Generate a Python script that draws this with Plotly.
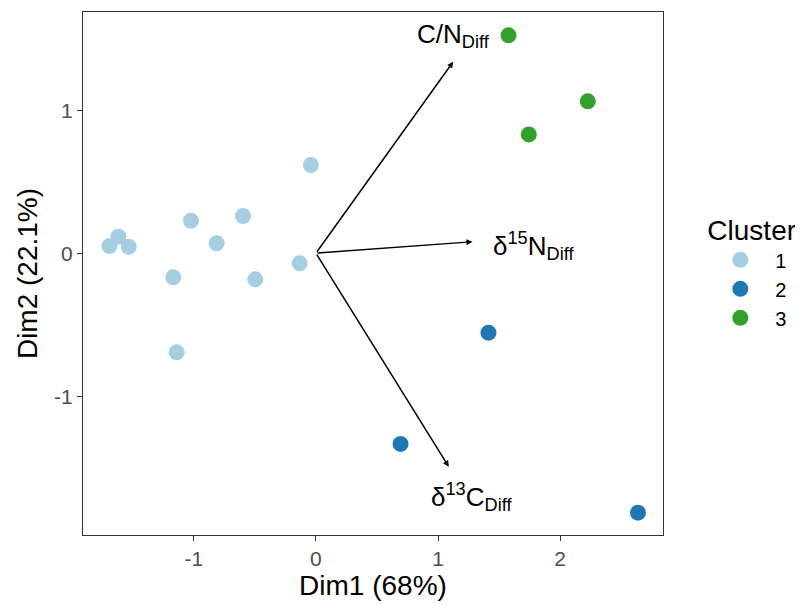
import plotly.graph_objects as go

# ---- data ----
clusters = ["1", "2", "3"]
cluster_colors = ["#A6CEE3", "#1F78B4", "#33A02C"]

c1_x = [-1.691, -1.618, -1.533, -1.168, -1.023, -1.140, -0.813, -0.597, -0.497, -0.133, -0.041]
c1_y = [0.050, 0.115, 0.045, -0.169, 0.227, -0.693, 0.069, 0.260, -0.183, -0.071, 0.617]
c2_x = [0.693, 1.413, 2.637]
c2_y = [-1.334, -0.556, -1.815]
c3_x = [1.577, 2.226, 1.743]
c3_y = [1.524, 1.062, 0.831]

var_names = ["C/N<sub>Diff</sub>", "δ<sup>15</sup>N<sub>Diff</sub>", "δ<sup>13</sup>C<sub>Diff</sub>"]
var_x = [1.124, 1.282, 1.088]
var_y = [1.339, 0.080, -1.493]

x_ticks = [-1, 0, 1, 2]
x_tick_labels = ["-1", "0", "1", "2"]
y_ticks = [-1, 0, 1]
y_tick_labels = ["-1", "0", "1"]
x_title = "Dim1 (68%)"
y_title = "Dim2 (22.1%)"
legend_title = "Cluster"

FONT = "Liberation Sans, Arial, sans-serif"

fig = go.Figure()
for name, col, xs, ys in zip(clusters, cluster_colors, [c1_x, c2_x, c3_x], [c1_y, c2_y, c3_y]):
    fig.add_trace(go.Scatter(x=xs, y=ys, mode="markers", name=name,
                             marker=dict(color=col, size=16, line=dict(width=0))))

# arrows
for vx, vy in zip(var_x, var_y):
    fig.add_annotation(x=vx, y=vy, ax=0, ay=0, xref="x", yref="y", axref="x", ayref="y",
                       showarrow=True, arrowhead=2, arrowsize=0.8, arrowwidth=1.5,
                       arrowcolor="black", text="")

# labels (placed relative to arrow tips)
label_style = [
    dict(xanchor="center", yanchor="middle", xshift=0, yshift=26),
    dict(xanchor="left", yanchor="middle", xshift=19, yshift=-4),
    dict(xanchor="center", yanchor="middle", xshift=23, yshift=-30),
]
for name, vx, vy, st in zip(var_names, var_x, var_y, label_style):
    fig.add_annotation(x=vx, y=vy, xref="x", yref="y", text=name, showarrow=False,
                       font=dict(family=FONT, size=26, color="black"), **st)

axis_common = dict(showgrid=False, zeroline=False, showline=True, mirror=True,
                   linecolor="#333333", linewidth=1.2, ticks="outside", ticklen=5,
                   tickcolor="#333333", tickwidth=1.2, automargin=False,
                   tickfont=dict(family=FONT, size=21, color="#4D4D4D"))

fig.update_layout(
    width=803, height=605,
    margin=dict(l=75, r=148, t=4, b=78, autoexpand=False),
    paper_bgcolor="white", plot_bgcolor="white",
    font=dict(family=FONT),
    xaxis=dict(range=[-1.907, 2.842], tickvals=x_ticks, ticktext=x_tick_labels,
               title=dict(text=x_title, font=dict(family=FONT, size=28, color="black"), standoff=6),
               **axis_common),
    yaxis=dict(range=[-1.971, 1.687], tickvals=y_ticks, ticktext=y_tick_labels,
               title=dict(text=y_title, font=dict(family=FONT, size=28, color="black"), standoff=8),
               **axis_common),
    legend=dict(title=dict(text=legend_title, font=dict(family=FONT, size=28, color="black")),
                font=dict(family=FONT, size=20, color="black"),
                x=1.073, xanchor="left", y=0.505, yanchor="middle",
                bgcolor="rgba(0,0,0,0)", itemwidth=60),
    showlegend=True,
)

fig.write_html("out.html")
